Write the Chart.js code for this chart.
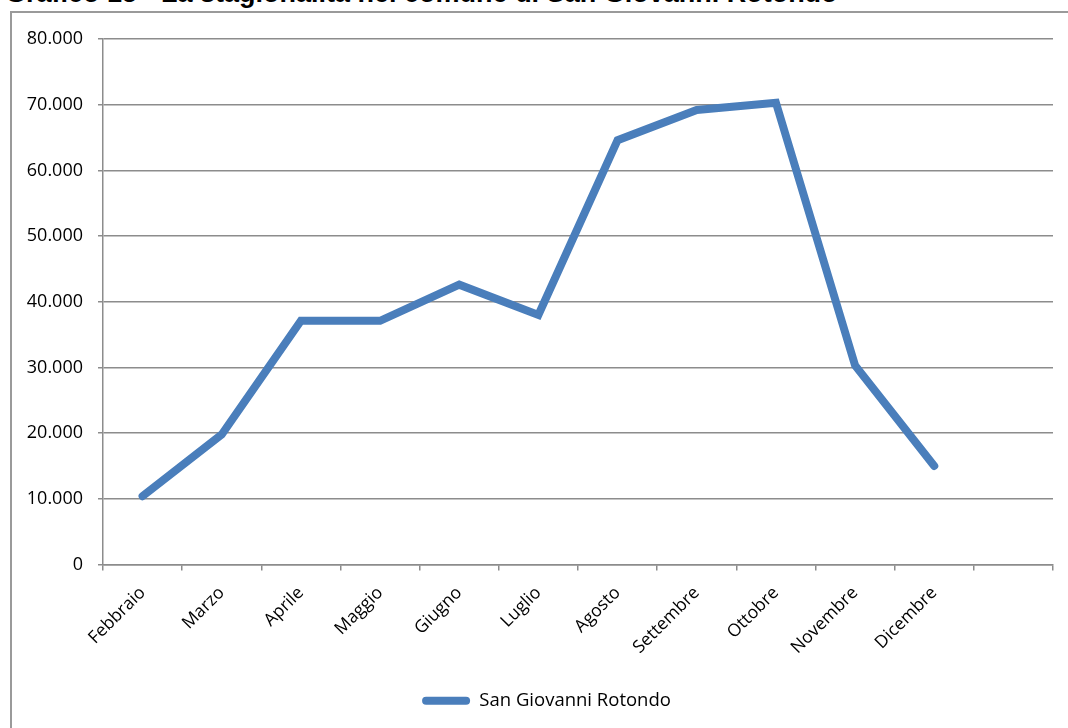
<!DOCTYPE html>
<html>
<head>
<meta charset="utf-8">
<script src="https://cdn.jsdelivr.net/npm/chart.js@4"></script>
<style>
  html, body { margin: 0; padding: 0; background: #fff; overflow: hidden; }
  #wrap { position: relative; width: 1068px; height: 728px; overflow: hidden; }
  #title {
    position: absolute; left: 5px; top: -20px; margin: 0;
    font: bold 27px "Liberation Sans", Arial, sans-serif; line-height: 27px;
    color: #000; white-space: nowrap;
  }
  #frame {
    position: absolute; left: 10px; top: 11px; width: 2000px; height: 2000px;
    border: 2px solid #9a9a9a; box-sizing: border-box;
  }
  #chart { position: absolute; left: 0; top: 0; }
</style>
</head>
<body>
<div id="wrap">
  <div id="title">Grafico 15 - La stagionalità nel comune di San Giovanni Rotondo</div>
  <div id="frame"></div>
  <canvas id="chart" width="1068" height="728"></canvas>
</div>
<script>
// Monthly presences, San Giovanni Rotondo
const months = ['Febbraio', 'Marzo', 'Aprile', 'Maggio', 'Giugno', 'Luglio',
                'Agosto', 'Settembre', 'Ottobre', 'Novembre', 'Dicembre', ''];
const presenze = [10400, 19800, 37100, 37100, 42600, 38000,
                  64600, 69200, 70300, 30300, 15000, null];
const seriesName = 'San Giovanni Rotondo';
const yTickLabels = ['0', '10.000', '20.000', '30.000', '40.000',
                     '50.000', '60.000', '70.000', '80.000'];

const FONT = '"Open Sans", "Noto Sans", sans-serif';
const GRID = '#8c8c8c';
const BLUE = '#4a7ebb';

// Nudge the legend row sideways so it sits under the plot, not the canvas centre
const legendShift = {
  id: 'legendShift',
  afterLayout(chart) {
    const lg = chart.legend;
    if (lg) { lg.left += 20; lg.right += 20; }
  }
};

new Chart(document.getElementById('chart'), {
  type: 'line',
  data: {
    labels: months,
    datasets: [{
      label: seriesName,
      data: presenze,
      borderColor: BLUE,
      backgroundColor: BLUE,
      borderWidth: 8,
      borderCapStyle: 'round',
      borderJoinStyle: 'miter',
      pointRadius: 0,
      pointHoverRadius: 0,
      tension: 0,
      fill: false
    }]
  },
  plugins: [legendShift],
  options: {
    responsive: false,
    animation: false,
    events: [],
    layout: { padding: { top: 39, right: 15, left: 0, bottom: 8 } },
    scales: {
      x: {
        type: 'category',
        offset: true,
        grid: {
          offset: true,
          drawOnChartArea: false,
          drawTicks: true,
          tickLength: 6,
          color: GRID,
          lineWidth: 1.5
        },
        border: { display: true, color: GRID, width: 1.5 },
        ticks: {
          autoSkip: false,
          maxRotation: 45,
          minRotation: 45,
          padding: 12,
          color: '#000',
          font: { family: FONT, size: 17.5 }
        },
        afterFit(scale) { scale.height = 113; }
      },
      y: {
        min: 0,
        max: 80000,
        ticks: {
          stepSize: 10000,
          padding: 15,
          color: '#000',
          font: { family: FONT, size: 18 },
          callback: (value, index) => yTickLabels[index]
        },
        grid: {
          color: GRID,
          lineWidth: 1.5,
          tickLength: 5
        },
        border: { display: true, color: GRID, width: 1.5 },
        afterFit(scale) { scale.width = 103; }
      }
    },
    plugins: {
      title: { display: false },
      tooltip: { enabled: false },
      legend: {
        display: true,
        position: 'bottom',
        labels: {
          color: '#000',
          font: { family: FONT, size: 18.5 },
          boxWidth: 48,
          boxHeight: 8,
          padding: 14,
          useBorderRadius: true,
          borderRadius: 4,
          generateLabels(chart) {
            return chart.data.datasets.map((ds, i) => ({
              text: ds.label,
              fillStyle: ds.borderColor,
              strokeStyle: ds.borderColor,
              lineWidth: 0,
              borderRadius: 4,
              hidden: false,
              datasetIndex: i
            }));
          }
        }
      }
    }
  }
});
</script>
</body>
</html>
